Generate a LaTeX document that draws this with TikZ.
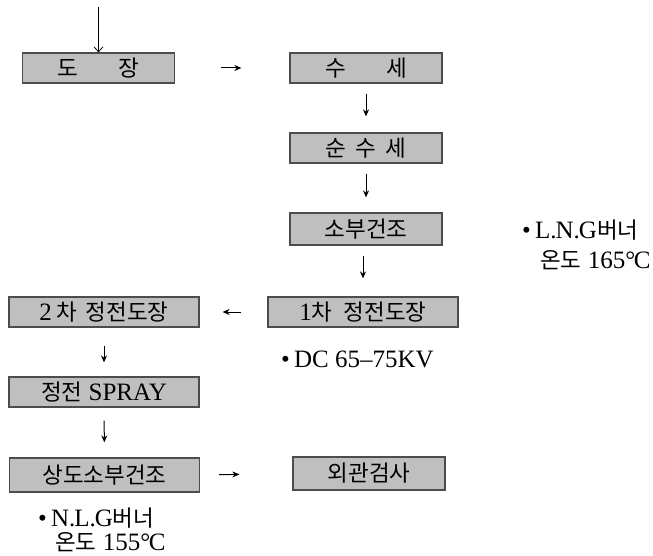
\documentclass[tikz,border=0pt]{standalone}
\usepackage{fontspec}
\setmainfont{Liberation Serif}
\newfontfamily\kr[Scale=0.9]{Noto Sans CJK KR}
\usetikzlibrary{arrows.meta}

\tikzset{
  stepbox/.style={draw=black!70, line width=1.2pt, fill=black!25, minimum height=30pt,
    inner sep=0pt, font=\fontsize{25}{28}\selectfont},
  narrowbox/.style={stepbox, minimum width=152pt},
  widebox/.style={stepbox, minimum width=190pt},
  flow/.style={line width=1pt, -{Stealth[length=7pt,width=6pt]}},
  feedflow/.style={line width=0.8pt, -{Straight Barb[length=5pt,width=9pt]}},
  note/.style={anchor=west, inner sep=0pt, font=\fontsize{25}{28}\selectfont}
}

\begin{document}
\begin{tikzpicture}[x=1pt, y=-1pt]
    \useasboundingbox (0,0) rectangle (653,556);
    %% Boxes, right column
    \node[narrowbox] (dojang) at (98.5,68) {\kr 도\hspace{1.8em}장};
    \node[narrowbox] (suse) at (366,68) {\kr 수\hspace{1.8em}세};
    \node[narrowbox] (sunsuse) at (366,148) {\kr 순\hspace{0.4em}수\hspace{0.4em}세};
    \node[narrowbox, minimum height=32pt] (sobu) at (366,229) {\kr 소부건조};
    \node[widebox] (cha1) at (363,312) {1{\kr 차\hspace{0.5em}정전도장}};
    %% Boxes, left column
    \node[widebox] (cha2) at (104,312) {2\,{\kr 차\hspace{0.4em}정전도장}};
    \node[widebox] (spray) at (104,392) {{\kr 정전} SPRAY};
    \node[widebox, minimum height=34pt] (sangdo) at (104.5,475) {\kr 상도소부건조};
    \node[narrowbox, minimum height=33pt] (oegwan) at (369,473.5) {\kr 외관검사};
    %% Notes
    \node[note] (lngnote) at (522,230) {\textbullet\,L.\kern-1ptN.\kern-1ptG{\kr 버너}};
    \node[note] (lngtemp) at (540,260) {{\kr 온도} 165°\kern-1.5ptC};
    \node[note] (dcnote) at (281,359) {\textbullet\,DC 65–75KV};
    \node[note] (nlgnote) at (38,518) {\textbullet\,N.\kern-1ptL.\kern-1ptG{\kr 버너}};
    \node[note] (nlgtemp) at (55,542) {{\kr 온도} 155°\kern-1.5ptC};
    %% Flow
    \coordinate (feed) at (98.5,7);
    \draw[feedflow] (feed) -- (dojang.north);
    \draw[flow, shorten <=46pt, shorten >=48pt] (dojang.east) -- (suse.west);
    \draw[flow, shorten <=10pt, shorten >=16pt] (suse.south) -- (sunsuse.north);
    \draw[flow, shorten <=10pt, shorten >=15pt] (sunsuse.south) -- (sobu.north);
    \draw[flow, shorten <=10pt, shorten >=18pt] (sobu.south -| cha1) -- (cha1.north);
    \draw[flow, shorten <=26pt, shorten >=23pt] (cha1.west) -- (cha2.east);
    \draw[flow, shorten <=18pt, shorten >=14pt] (cha2.south) -- (spray.north);
    \draw[flow, shorten <=13pt, shorten >=15pt] (spray.south) -- (sangdo.north);
    \draw[flow, shorten <=19pt, shorten >=53pt] (sangdo.east) -- (oegwan.west);
\end{tikzpicture}
\end{document}
